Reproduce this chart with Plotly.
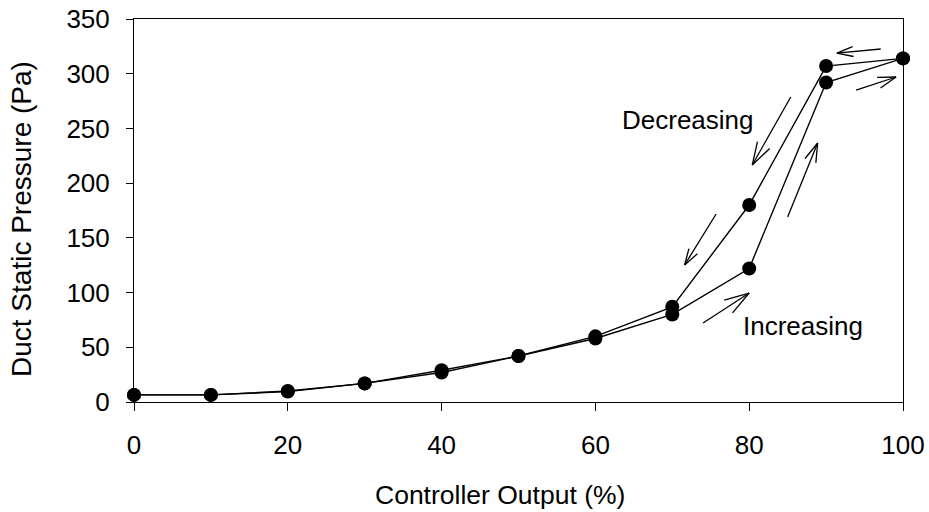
import math
import plotly.graph_objects as go

# Data
controller_output = [0, 10, 20, 30, 40, 50, 60, 70, 80, 90, 100]
pressure_increasing = [6.5, 6.5, 9.5, 17, 27, 42, 58, 80, 122, 292, 314]
pressure_decreasing = [6.5, 6.5, 10, 17, 29, 42, 60, 87, 180, 307, 314]

x_ticks = [0, 20, 40, 60, 80, 100]
y_ticks = [0, 50, 100, 150, 200, 250, 300, 350]

# Annotation arrows (tail x, tail y, head x, head y) in data units, head length px
arrows = [
    (97.1, 322.6, 91.4, 318.9, 17),
    (93.9, 285.1, 99.1, 297.0, 19),
    (85.4, 278.7, 80.4, 216.6, 24),
    (85.0, 169.1, 88.9, 236.7, 20),
    (75.7, 171.8, 71.6, 125.2, 17),
    (74.0, 72.2, 80.0, 99.6, 26),
]

W, H = 929, 512
ML, MR, MT, MB = 134, 26, 19, 110
XR = [0, 100]
YR = [0, 350]
PW = W - ML - MR
PH = H - MT - MB
sx = PW / (XR[1] - XR[0])
sy = PH / (YR[1] - YR[0])

FONT = "Liberation Sans, Arial, sans-serif"

fig = go.Figure()
fig.add_trace(go.Scatter(
    x=controller_output, y=pressure_increasing, mode="lines+markers",
    line=dict(color="black", width=1.4),
    marker=dict(color="black", size=14), cliponaxis=False, showlegend=False))
fig.add_trace(go.Scatter(
    x=controller_output, y=pressure_decreasing, mode="lines+markers",
    line=dict(color="black", width=1.4),
    marker=dict(color="black", size=14), cliponaxis=False, showlegend=False))

shapes = []
for (x0, y0, x1, y1, hl) in arrows:
    shapes.append(dict(type="line", xref="x", yref="y", x0=x0, y0=y0, x1=x1, y1=y1,
                       line=dict(color="black", width=1.3)))
    dx = (x1 - x0) * sx
    dy = (y1 - y0) * sy
    ang = math.atan2(dy, dx)
    for s in (1, -1):
        a = ang + math.pi + s * math.radians(17)
        wx = x1 + hl * math.cos(a) / sx
        wy = y1 + hl * math.sin(a) / sy
        shapes.append(dict(type="line", xref="x", yref="y", x0=x1, y0=y1, x1=wx, y1=wy,
                           line=dict(color="black", width=1.3)))


def px_to_paper(px, py):
    return (px - ML) / PW, (H - MB - py) / PH


xt_x, xt_y = px_to_paper(500, 495)
yt_x, yt_y = px_to_paper(22, 219)

fig.update_layout(
    width=W, height=H,
    margin=dict(l=ML, r=MR, t=MT, b=MB, autoexpand=False),
    paper_bgcolor="white", plot_bgcolor="white",
    font=dict(family=FONT, color="black", size=26),
    shapes=shapes,
    annotations=[
        dict(x=72.1, y=257.7, xref="x", yref="y", text="Decreasing", showarrow=False,
             font=dict(size=26, family=FONT), xanchor="center", yanchor="middle"),
        dict(x=87.0, y=69.5, xref="x", yref="y", text="Increasing", showarrow=False,
             font=dict(size=26, family=FONT), xanchor="center", yanchor="middle"),
        dict(x=xt_x, y=xt_y, xref="paper", yref="paper", text="Controller Output (%)",
             showarrow=False, font=dict(size=26.5, family=FONT),
             xanchor="center", yanchor="middle"),
        dict(x=yt_x, y=yt_y, xref="paper", yref="paper", text="Duct Static Pressure (Pa)",
             showarrow=False, textangle=-90, font=dict(size=28, family=FONT),
             xanchor="center", yanchor="middle"),
    ],
    xaxis=dict(range=XR, tickvals=x_ticks, showline=True, mirror=True, linecolor="black",
               linewidth=1, ticks="outside", ticklen=8, tickcolor="black", showgrid=False,
               zeroline=False, automargin=False, ticklabelstandoff=12,
               tickfont=dict(size=26, family=FONT)),
    yaxis=dict(range=YR, tickvals=y_ticks, showline=True, mirror=True, linecolor="black",
               linewidth=1, ticks="outside", ticklen=7, tickcolor="black", showgrid=False,
               zeroline=False, automargin=False, ticklabelstandoff=11,
               tickfont=dict(size=26, family=FONT)),
)

fig.write_html("out.html")
